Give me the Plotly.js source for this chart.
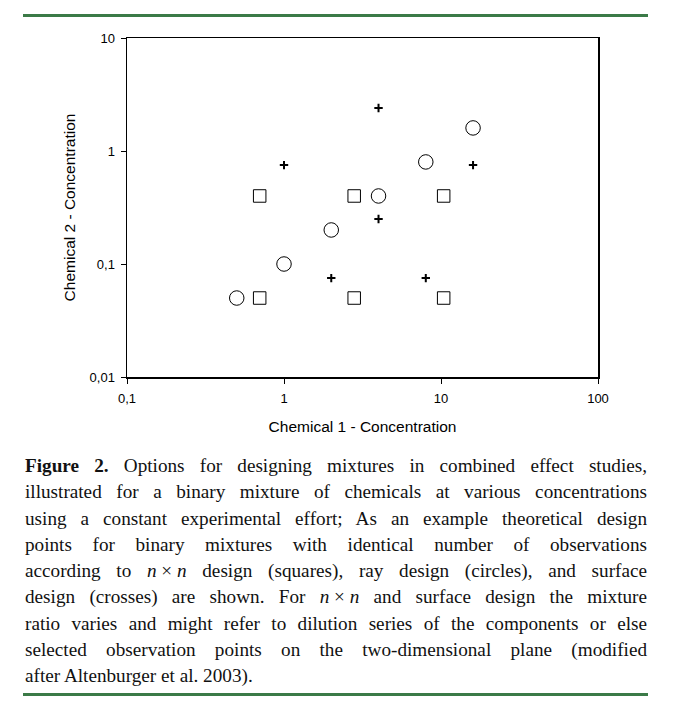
<!DOCTYPE html>
<html>
<head>
<meta charset="utf-8">
<script src="https://cdn.plot.ly/plotly-3.0.1.min.js"></script>
<style>
  body { margin: 0; background: #fff; }
  #wrap { position: relative; width: 675px; height: 706px; overflow: hidden; background: #fff; }
  #chart { position: absolute; left: 0; top: 0; width: 675px; height: 706px; }
  .rule { position: absolute; left: 23px; width: 625px; height: 3px; background: #3b7a47; }
  #caption { position: absolute; left: 25px; width: 622px; top: 453px;
             font-family: 'Liberation Serif', 'Times New Roman', serif; font-size: 19.2px;
             line-height: 26.25px; color: #111; }
  #caption .ln { text-align: justify; text-align-last: justify; white-space: normal; }
  #caption .last { text-align: left; text-align-last: left; }
  #caption .nn { display: inline-block; text-align: left; text-align-last: left; }
</style>
</head>
<body>
<div id="wrap">
  <div id="chart"></div>
  <div class="rule" style="top:14px"></div>
  <div id="caption">
    <div class="ln"><b>Figure 2.</b> Options for designing mixtures in combined effect studies,</div>
    <div class="ln">illustrated for a binary mixture of chemicals at various concentrations</div>
    <div class="ln">using a constant experimental effort; As an example theoretical design</div>
    <div class="ln">points for binary mixtures with identical number of observations</div>
    <div class="ln">according to <span class="nn"><i>n</i> × <i>n</i></span> design (squares), ray design (circles), and surface</div>
    <div class="ln">design (crosses) are shown. For <span class="nn"><i>n</i> × <i>n</i></span> and surface design the mixture</div>
    <div class="ln">ratio varies and might refer to dilution series of the components or else</div>
    <div class="ln">selected observation points on the two-dimensional plane (modified</div>
    <div class="ln last">after Altenburger et al. 2003).</div>
  </div>
  <div class="rule" style="top:693px"></div>
</div>
<script>
// n x n design (squares)
const squareX = [0.7, 2.8, 10.4, 0.7, 2.8, 10.4];
const squareY = [0.05, 0.05, 0.05, 0.4, 0.4, 0.4];
// ray design (circles)
const circleX = [0.5, 1, 2, 4, 8, 16];
const circleY = [0.05, 0.1, 0.2, 0.4, 0.8, 1.6];
// surface design (crosses)
const crossX = [1, 4, 16, 4, 2, 8];
const crossY = [0.75, 2.4, 0.75, 0.25, 0.075, 0.075];

const xTickVals = [0.1, 1, 10, 100];
const xTickText = ['0,1', '1', '10', '100'];
const yTickVals = [0.01, 0.1, 1, 10];
const yTickText = ['0,01', '0,1', '1', '10'];

const xTitle = 'Chemical 1 - Concentration';
const yTitle = 'Chemical 2 - Concentration';

const traces = [
  { x: squareX, y: squareY, mode: 'markers', type: 'scatter', name: 'n × n design',
    marker: { symbol: 'square-open', size: 12.5, color: '#000', line: { width: 1, color: '#000' } } },
  { x: circleX, y: circleY, mode: 'markers', type: 'scatter', name: 'ray design',
    marker: { symbol: 'circle-open', size: 14.5, color: '#000', line: { width: 1, color: '#000' } } },
  { x: crossX, y: crossY, mode: 'markers', type: 'scatter', name: 'surface design',
    marker: { symbol: 'cross-thin-open', size: 6, color: '#000', line: { width: 2, color: '#000' } } }
];

const axisCommon = {
  type: 'log', showgrid: false, zeroline: false,
  showline: true, linecolor: '#000', linewidth: 1.5, mirror: true,
  ticks: 'outside', ticklen: 5, tickwidth: 1, tickcolor: '#000',
  tickfont: { family: 'Liberation Sans, Arial, sans-serif', size: 13, color: '#000' },
  automargin: false
};

const layout = {
  width: 675, height: 706,
  margin: { l: 127, r: 77, t: 38, b: 329, pad: 0 },
  paper_bgcolor: 'rgba(0,0,0,0)', plot_bgcolor: '#fff',
  showlegend: false,
  font: { family: 'Liberation Sans, Arial, sans-serif', color: '#000' },
  xaxis: Object.assign({}, axisCommon, {
    range: [-1, 2], tickvals: xTickVals, ticktext: xTickText, ticklabelstandoff: 4,
    title: { text: xTitle, font: { size: 15.5, color: '#000' }, standoff: 16 }
  }),
  yaxis: Object.assign({}, axisCommon, {
    range: [-2, 1], tickvals: yTickVals, ticktext: yTickText, ticklabelstandoff: 3,
    title: { text: yTitle, font: { size: 15.5, color: '#000' }, standoff: 10 }
  })
};

Plotly.newPlot('chart', traces, layout, { staticPlot: true, displayModeBar: false });
</script>
</body>
</html>
